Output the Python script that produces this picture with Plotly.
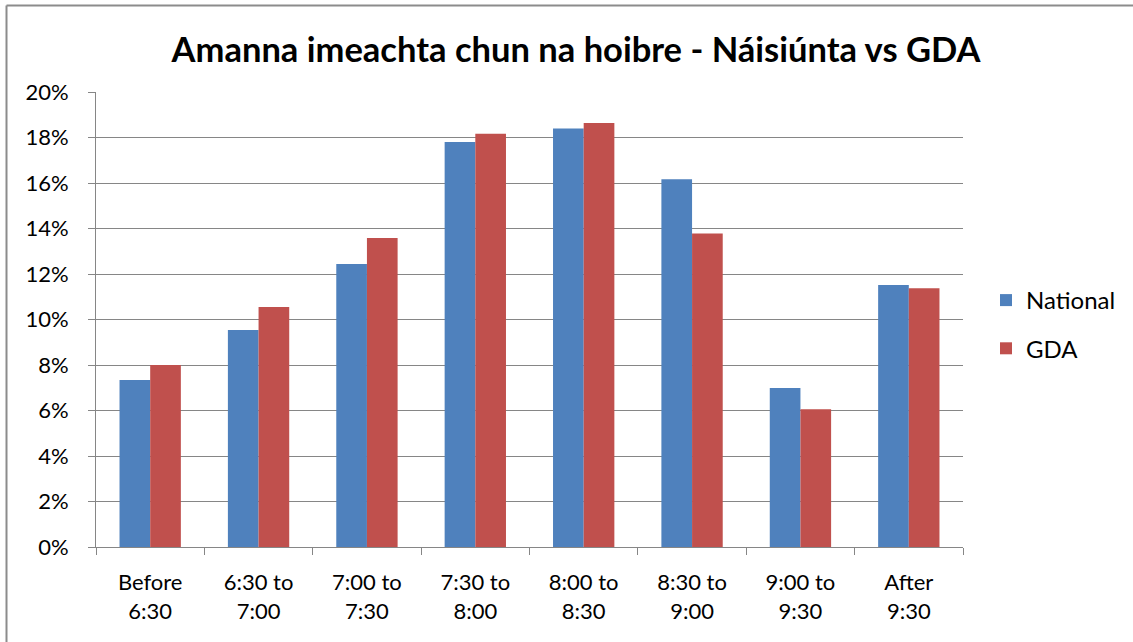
import plotly.graph_objects as go

categories = ["Before<br>6:30", "6:30 to<br>7:00", "7:00 to<br>7:30", "7:30 to<br>8:00",
              "8:00 to<br>8:30", "8:30 to<br>9:00", "9:00 to<br>9:30", "After<br>9:30"]
national = [0.0734, 0.0954, 0.1244, 0.1780, 0.1840, 0.1617, 0.0699, 0.1152]
gda = [0.0800, 0.1055, 0.1358, 0.1817, 0.1864, 0.1378, 0.0605, 0.1137]
y_ticks = [0, 0.02, 0.04, 0.06, 0.08, 0.10, 0.12, 0.14, 0.16, 0.18, 0.20]

FONT = "Lato, Calibri, sans-serif"
GRID = "#868686"

fig = go.Figure()
fig.add_trace(go.Bar(x=categories, y=national, name="National", marker_color="#4F81BD",
                     marker_line_width=0, legendgroup="a"))
fig.add_trace(go.Bar(x=categories, y=gda, name="GDA", marker_color="#C0504D",
                     marker_line_width=0, legendgroup="b"))

L, R, T, B = 96, 170, 92, 95
W, H = 1133, 642
pw, ph = W - L - R, H - T - B

# outer chart border (top and left edges visible in the frame)
bx0, by0 = (6.5 - L) / pw, (H - B - 5.5) / ph
bx1, by1 = (W + 40 - L) / pw, (H - B - H - 40) / ph
border = dict(color="#8C8C8C", width=2)

fig.update_layout(
    width=W, height=H,
    margin=dict(l=L, r=R, t=T, b=B),
    paper_bgcolor="white", plot_bgcolor="white",
    barmode="group", bargap=0.434, bargroupgap=0,
    font=dict(family=FONT, size=22, color="black"),
    title=dict(text="<b>Amanna imeachta chun na hoibre - Náisiúnta vs GDA</b>",
               x=576 / W, xanchor="center", xref="container",
               y=1 - 50 / H, yanchor="middle", yref="container",
               font=dict(family=FONT, size=34.5, color="black")),
    showlegend=True,
    legend=dict(x=(986 - L) / pw, xanchor="left", y=(H - B - 278) / ph, yanchor="top",
                traceorder="grouped", tracegroupgap=14,
                font=dict(family=FONT, size=24, color="black"),
                itemsizing="constant", bgcolor="rgba(0,0,0,0)"),
    xaxis=dict(showgrid=False, showline=True, linecolor=GRID, linewidth=1,
               ticks="outside", ticklen=7, tickcolor=GRID, tickson="boundaries",
               ticklabelstandoff=16,
               tickfont=dict(family=FONT, size=22, color="black")),
    yaxis=dict(range=[0, 0.20], tickvals=y_ticks, tickformat=".0%",
               showgrid=True, gridcolor=GRID, gridwidth=1,
               showline=True, linecolor=GRID, linewidth=1,
               ticks="outside", ticklen=7, tickcolor=GRID,
               ticklabelstandoff=15,
               zeroline=False,
               tickfont=dict(family=FONT, size=22, color="black")),
    shapes=[
        dict(type="line", xref="paper", yref="paper", x0=bx0, x1=bx1, y0=by0, y1=by0,
             line=border, layer="below"),
        dict(type="line", xref="paper", yref="paper", x0=bx0, x1=bx0, y0=by0, y1=by1,
             line=border, layer="below"),
    ],
)

fig.write_html("out.html", config={"displayModeBar": False},
               post_script="document.body.style.margin='0';document.body.style.overflow='hidden';")
